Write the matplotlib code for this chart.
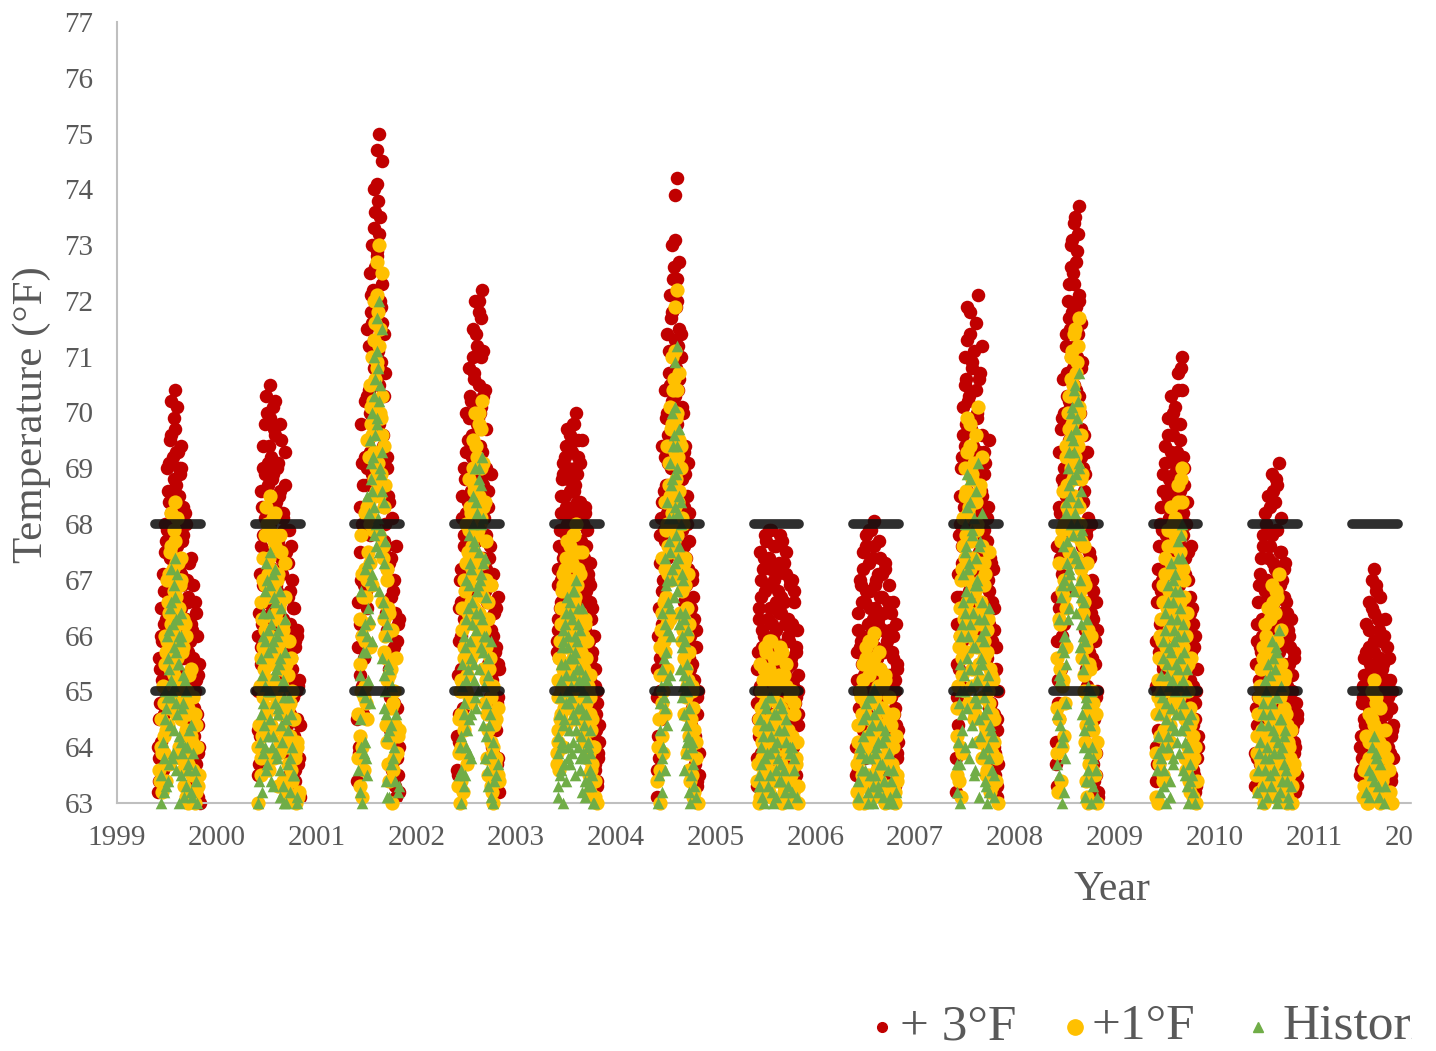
import matplotlib
matplotlib.use("Agg")
import matplotlib.pyplot as plt
from matplotlib.lines import Line2D
from matplotlib.patches import Rectangle
import numpy as np

# summer water temperatures (historical, deg F), two readings per sampling day,
# read off the plot; the +1 / +3 scenarios are the same record shifted up
seasons = [1999, 2000, 2001, 2002, 2003, 2004, 2005, 2006, 2007, 2008, 2009, 2010, 2011]
season_start = [0.41] * 12 + [0.46]   # fraction of the year
season_end = [0.83] * 12 + [0.79]

t1999 = [60.2, 61.5, 60.8, 62.4, 61.1, 63.0, 62.2, 60.6, 63.8, 62.9,
         64.5, 63.3, 61.9, 64.9, 65.6, 63.7, 66.1, 64.4, 65.2, 66.6,
         65.0, 63.9, 66.9, 65.8, 67.4, 66.3, 64.8, 67.1, 65.5, 66.0,
         64.2, 65.9, 63.5, 66.4, 64.7, 62.6, 65.3, 63.1, 64.0, 62.1,
         65.0, 61.4, 63.6, 62.7, 64.3, 60.9, 63.2, 61.8, 62.5, 60.4,
         63.9, 61.2, 62.0, 60.7, 63.4, 61.6, 60.1, 62.3, 61.0, 59.8]
t2000 = [60.5, 62.0, 63.4, 61.2, 64.6, 62.8, 65.3, 63.9, 66.0, 64.4,
         66.8, 65.1, 63.6, 67.0, 65.7, 64.2, 66.4, 67.5, 65.0, 66.2,
         64.0, 65.9, 63.3, 66.7, 64.8, 67.2, 65.4, 63.8, 66.1, 64.6,
         62.9, 65.6, 63.1, 66.5, 64.1, 62.4, 65.2, 63.0, 66.3, 61.7,
         64.5, 62.2, 63.7, 60.9, 64.9, 61.5, 63.2, 62.6, 60.3, 64.0,
         61.9, 63.5, 60.6, 62.8, 61.1, 63.0, 60.2, 62.1, 60.8, 61.4]
t2001 = [60.4, 62.8, 61.0, 64.5, 63.2, 66.8, 62.1, 65.0, 61.6, 63.9,
         66.2, 64.1, 65.7, 67.3, 63.5, 66.5, 68.2, 64.8, 67.0, 69.1,
         65.9, 68.6, 66.9, 70.3, 67.8, 69.6, 68.0, 71.1, 69.9, 70.8,
         67.5, 72.0, 70.5, 68.9, 71.5, 69.3, 66.4, 68.4, 65.3, 67.7,
         64.6, 66.0, 63.1, 65.5, 62.4, 64.3, 61.3, 63.7, 60.7, 65.1,
         62.6, 64.0, 61.8, 63.4, 60.1, 62.9, 61.2, 60.5, 63.3, 59.9]
t2002 = [60.6, 62.3, 61.1, 63.5, 62.0, 64.2, 63.0, 65.1, 61.7, 64.6,
         63.3, 65.8, 64.0, 66.3, 62.7, 65.4, 66.9, 64.5, 67.3, 65.6,
         63.8, 66.6, 68.0, 65.2, 67.7, 64.9, 66.1, 68.4, 66.8, 65.0,
         67.5, 69.0, 66.4, 68.7, 67.1, 69.2, 65.7, 68.1, 66.0, 67.4,
         64.8, 66.7, 63.6, 65.3, 62.5, 64.4, 61.9, 63.1, 65.9, 62.2,
         64.1, 60.9, 63.4, 61.5, 62.8, 60.3, 61.8, 63.7, 60.8, 62.4]
t2003 = [62.7, 63.9, 63.1, 64.6, 63.5, 65.2, 64.0, 65.8, 64.4, 66.1,
         63.7, 65.5, 64.8, 66.4, 65.0, 63.8, 66.0, 64.3, 65.6, 66.6,
         64.9, 66.3, 65.3, 64.1, 66.8, 65.7, 64.5, 67.0, 65.9, 64.7,
         66.2, 65.1, 63.6, 65.4, 64.2, 66.5, 63.9, 65.0, 64.6, 63.4,
         65.2, 63.8, 64.9, 63.3, 64.0, 62.9, 63.6, 64.3, 62.6, 63.5,
         61.8, 63.0, 61.2, 62.4, 60.7, 61.6, 60.3, 62.0, 60.9, 61.4]
t2004 = [60.1, 61.9, 63.0, 60.8, 62.6, 64.3, 61.5, 63.8, 65.4, 62.9,
         64.9, 66.2, 63.6, 65.7, 67.0, 64.4, 66.6, 68.1, 65.3, 67.5,
         66.0, 68.8, 67.2, 69.4, 66.7, 68.3, 70.1, 67.8, 71.2, 69.0,
         67.4, 69.7, 68.5, 66.4, 68.0, 65.8, 67.1, 65.1, 66.3, 64.6,
         65.9, 63.9, 65.5, 64.1, 66.1, 63.2, 64.7, 62.4, 63.5, 61.7,
         64.0, 62.1, 60.6, 63.3, 61.2, 62.8, 60.4, 61.6, 59.9, 60.9]
t2005 = [60.3, 61.8, 62.7, 61.2, 63.5, 62.1, 64.0, 60.9, 63.1, 62.5,
         64.4, 61.6, 63.8, 64.7, 62.9, 61.4, 63.3, 64.9, 62.2, 63.9,
         60.6, 64.2, 62.8, 63.0, 61.9, 64.6, 62.4, 63.6, 60.8, 64.1,
         61.1, 63.4, 62.6, 64.8, 61.5, 63.7, 62.0, 60.4, 64.3, 62.3,
         63.2, 61.3, 64.5, 62.9, 60.7, 63.0, 61.7, 63.9, 62.5, 61.0,
         64.0, 62.2, 60.2, 63.6, 61.8, 62.7, 60.5, 63.1, 61.4, 62.0]
t2006 = [60.5, 62.2, 61.0, 63.4, 61.7, 62.8, 60.3, 63.9, 62.5, 61.3,
         64.2, 62.0, 63.6, 60.9, 64.6, 62.9, 61.5, 63.2, 64.9, 62.4,
         63.8, 61.2, 64.4, 63.0, 62.1, 65.05, 63.5, 61.8, 64.0, 62.6,
         60.7, 63.3, 64.7, 61.9, 63.7, 62.3, 64.1, 60.6, 63.1, 62.7,
         61.4, 64.3, 62.8, 60.8, 63.0, 61.6, 63.9, 62.2, 60.4, 63.4,
         61.1, 62.6, 63.6, 60.2, 62.0, 61.7, 63.2, 60.9, 62.4, 61.3]
t2007 = [60.2, 62.5, 63.7, 61.4, 64.8, 63.0, 65.5, 62.1, 66.2, 64.3,
         67.1, 65.0, 68.0, 66.4, 67.6, 64.7, 68.9, 66.0, 67.3, 65.4,
         68.4, 66.7, 64.1, 67.9, 65.8, 63.5, 66.9, 64.9, 68.6, 65.2,
         67.0, 69.1, 66.3, 64.5, 67.7, 65.6, 68.2, 66.6, 63.9, 65.9,
         64.6, 66.1, 63.3, 65.1, 62.6, 64.0, 66.5, 63.2, 64.4, 61.8,
         63.6, 62.3, 64.2, 61.0, 63.1, 60.5, 62.8, 61.5, 60.1, 62.0]
t2008 = [60.7, 62.9, 64.6, 61.8, 66.3, 63.5, 65.2, 62.4, 66.9, 64.1,
         67.6, 65.7, 63.2, 66.0, 68.2, 64.8, 67.3, 69.0, 66.5, 68.7,
         67.1, 69.6, 68.0, 70.1, 67.8, 69.3, 66.8, 70.5, 68.9, 67.4,
         69.9, 68.4, 70.7, 69.1, 67.0, 68.6, 66.2, 67.9, 65.4, 66.6,
         64.3, 65.9, 63.4, 64.9, 62.1, 63.9, 65.1, 62.7, 64.4, 61.3,
         63.0, 64.0, 61.6, 63.3, 60.4, 62.5, 63.6, 60.9, 62.0, 60.1]
t2009 = [60.4, 62.1, 63.6, 61.3, 64.2, 62.7, 65.0, 61.9, 63.8, 64.9,
         62.4, 65.6, 63.3, 66.1, 64.5, 62.9, 65.3, 66.6, 64.0, 65.8,
         63.1, 66.3, 64.7, 65.2, 67.0, 63.7, 65.9, 64.3, 66.8, 65.5,
         64.1, 66.0, 67.4, 65.1, 66.5, 64.6, 67.8, 68.0, 66.2, 64.8,
         65.7, 63.5, 64.4, 62.6, 65.4, 63.0, 64.0, 61.7, 63.4, 62.2,
         64.6, 61.1, 63.2, 60.6, 62.8, 61.5, 60.2, 62.0, 60.8, 61.2]
t2010 = [60.3, 61.7, 62.9, 60.8, 63.6, 62.2, 61.4, 64.1, 62.7, 63.3,
         60.6, 64.6, 62.0, 63.8, 61.2, 65.0, 63.1, 62.4, 64.4, 61.8,
         65.3, 63.5, 62.6, 64.8, 61.5, 65.6, 63.9, 62.1, 64.2, 65.8,
         63.0, 64.9, 62.8, 66.1, 64.5, 63.2, 65.1, 62.3, 64.0, 61.6,
         63.7, 62.5, 64.3, 61.0, 63.4, 62.0, 60.7, 63.0, 61.9, 62.8,
         60.4, 62.3, 61.3, 60.9, 62.6, 61.1, 60.2, 61.8, 60.5, 61.5]
t2011 = [60.5, 61.2, 60.8, 61.9, 62.3, 61.5, 60.6, 62.7, 61.0, 62.0,
         63.1, 61.7, 62.5, 60.9, 63.5, 61.3, 62.9, 64.2, 62.2, 63.9,
         61.8, 63.3, 60.7, 62.6, 63.7, 61.4, 62.4, 61.1, 63.0, 62.1,
         60.6, 61.6, 62.8, 61.9, 60.8, 62.2, 61.2, 60.5, 62.0, 61.4]

# second reading of each day
t1999_b = [61.0, 60.4, 62.6, 61.8, 63.5, 60.9, 62.9, 64.1, 61.6, 63.2,
           65.0, 62.4, 64.7, 66.0, 63.4, 65.4, 62.7, 66.5, 64.9, 67.2,
           63.8, 66.2, 65.1, 64.3, 66.7, 63.6, 65.7, 64.6, 66.3, 63.0,
           65.5, 62.8, 64.1, 66.0, 63.9, 61.9, 64.8, 62.3, 65.2, 63.3,
           61.5, 64.0, 62.0, 63.7, 60.6, 62.9, 64.4, 61.3, 63.1, 60.8,
           62.6, 61.7, 63.6, 60.3, 62.2, 63.0, 61.4, 60.9, 62.5, 60.0]
t2000_b = [61.3, 63.0, 60.7, 64.1, 62.5, 65.6, 63.2, 64.8, 66.4, 62.9,
           65.9, 64.0, 67.3, 63.7, 66.1, 65.0, 62.6, 66.9, 64.5, 63.4,
           65.8, 67.1, 64.2, 62.8, 66.6, 65.3, 63.9, 66.0, 64.7, 62.3,
           65.5, 63.6, 66.8, 64.4, 61.8, 65.1, 63.3, 64.9, 62.1, 65.7,
           63.0, 61.4, 64.3, 62.7, 60.5, 63.8, 61.6, 64.6, 62.4, 60.9,
           63.5, 61.2, 62.9, 60.4, 62.0, 63.1, 61.5, 60.7, 62.2, 60.1]
t2001_b = [61.5, 63.6, 60.9, 65.3, 62.3, 64.0, 66.1, 63.0, 65.7, 62.6,
           64.9, 67.2, 63.8, 66.0, 68.5, 65.2, 67.4, 69.5, 66.3, 68.8,
           70.0, 67.1, 69.2, 71.0, 68.3, 70.6, 67.6, 71.7, 69.8, 68.1,
           70.2, 66.8, 69.0, 67.9, 65.6, 68.6, 66.6, 64.7, 67.3, 65.0,
           63.4, 66.2, 64.2, 62.7, 65.4, 63.1, 61.9, 64.4, 62.0, 60.6,
           63.8, 61.4, 62.8, 60.3, 64.6, 61.7, 60.8, 63.2, 61.0, 60.2]
t2002_b = [61.2, 60.5, 62.9, 61.6, 64.0, 62.4, 63.6, 65.5, 62.2, 64.8,
           66.0, 63.5, 65.2, 67.0, 64.3, 66.5, 63.9, 67.8, 65.9, 64.6,
           67.2, 66.2, 68.5, 65.5, 67.6, 69.0, 66.4, 64.7, 68.2, 66.9,
           65.4, 68.8, 67.0, 65.8, 68.0, 66.3, 64.4, 67.3, 65.1, 63.8,
           66.0, 64.2, 62.8, 65.6, 63.3, 61.6, 64.6, 62.3, 63.9, 61.0,
           63.0, 62.0, 60.5, 62.7, 61.3, 63.5, 60.7, 61.9, 62.5, 60.2]
t2003_b = [62.9, 63.3, 64.2, 62.6, 64.9, 63.6, 65.5, 64.1, 63.0, 65.9,
           64.5, 66.2, 63.4, 65.3, 66.7, 64.0, 65.8, 64.8, 63.7, 66.4,
           65.1, 63.9, 66.8, 64.6, 65.6, 63.5, 66.0, 64.3, 65.4, 66.5,
           64.0, 65.2, 63.8, 66.1, 64.7, 63.2, 65.0, 63.9, 64.4, 65.3,
           63.1, 64.6, 62.8, 64.1, 63.4, 62.5, 63.9, 62.2, 63.3, 61.5,
           62.7, 61.0, 63.0, 60.6, 62.1, 61.3, 60.4, 61.8, 60.8, 61.1]
t2004_b = [60.6, 62.4, 61.2, 63.5, 64.8, 62.0, 65.1, 63.2, 66.4, 64.0,
           65.6, 67.4, 64.7, 66.9, 65.2, 68.4, 66.1, 67.7, 69.1, 66.5,
           68.7, 67.0, 70.0, 68.1, 69.6, 67.3, 70.9, 68.9, 66.8, 69.4,
           68.2, 66.2, 67.6, 65.4, 68.4, 66.0, 64.9, 67.0, 65.3, 63.6,
           66.4, 64.4, 65.0, 62.9, 64.2, 62.6, 65.2, 63.0, 61.4, 64.1,
           62.5, 63.7, 61.0, 62.2, 60.7, 63.1, 61.9, 60.3, 62.0, 60.5]
t2005_b = [60.8, 62.4, 61.5, 63.3, 62.0, 64.5, 61.2, 63.7, 62.8, 64.2,
           60.5, 63.0, 64.8, 62.3, 61.8, 63.9, 62.6, 64.4, 61.1, 63.5,
           64.9, 62.1, 63.2, 61.6, 64.0, 62.9, 60.7, 64.6, 63.1, 61.9,
           63.8, 62.5, 64.3, 61.3, 63.4, 62.7, 64.7, 60.9, 62.2, 63.6,
           61.7, 64.1, 62.4, 60.6, 63.3, 61.5, 62.9, 64.0, 60.4, 62.6,
           63.2, 61.0, 62.1, 63.8, 60.8, 61.9, 62.8, 60.3, 61.6, 62.3]
t2006_b = [61.0, 62.7, 60.6, 63.1, 62.0, 64.0, 61.4, 62.9, 63.6, 61.8,
           64.5, 62.3, 60.8, 63.8, 64.8, 61.6, 63.0, 62.5, 64.3, 60.9,
           63.5, 64.9, 62.2, 63.3, 61.3, 64.6, 62.8, 63.9, 61.1, 62.6,
           64.1, 63.2, 60.5, 62.4, 64.4, 61.7, 63.7, 62.1, 60.7, 63.4,
           62.0, 64.2, 61.5, 62.9, 63.6, 60.4, 62.3, 61.2, 63.1, 61.9,
           62.7, 60.6, 63.0, 61.6, 62.2, 60.3, 61.4, 62.5, 60.8, 61.1]
t2007_b = [60.8, 61.9, 63.2, 64.1, 62.4, 65.0, 63.7, 66.0, 64.6, 62.9,
           66.6, 65.3, 67.5, 64.0, 66.8, 68.3, 65.6, 67.2, 63.8, 66.2,
           68.8, 65.1, 67.8, 64.4, 66.4, 68.1, 63.6, 65.8, 67.4, 64.8,
           66.9, 65.4, 63.1, 67.6, 64.2, 66.0, 62.8, 65.5, 63.9, 64.9,
           66.3, 63.4, 62.5, 64.7, 63.0, 65.3, 61.7, 63.8, 62.2, 64.3,
           61.2, 62.9, 60.6, 63.5, 61.6, 60.9, 62.4, 60.3, 61.3, 60.7]
t2008_b = [61.1, 60.3, 63.7, 62.2, 65.3, 61.5, 64.4, 66.7, 63.0, 65.8,
           64.2, 67.0, 66.0, 63.8, 68.4, 65.5, 67.7, 66.3, 69.3, 67.2,
           68.5, 70.0, 66.9, 68.8, 69.5, 67.5, 70.4, 68.2, 69.7, 66.4,
           68.0, 70.2, 67.3, 69.0, 65.8, 67.8, 66.7, 64.6, 66.0, 64.0,
           65.6, 63.1, 64.8, 62.4, 66.3, 63.6, 62.0, 64.5, 61.8, 63.4,
           65.0, 62.6, 60.7, 63.8, 61.5, 62.9, 60.5, 61.9, 63.1, 60.2]
t2009_b = [61.0, 62.9, 60.7, 63.9, 62.0, 64.6, 63.2, 61.6, 65.3, 64.0,
           62.5, 65.9, 63.6, 66.4, 64.8, 63.0, 65.5, 66.9, 64.2, 65.1,
           63.4, 67.3, 65.7, 64.4, 66.6, 63.8, 66.1, 65.0, 67.1, 64.6,
           66.3, 65.4, 67.7, 63.9, 66.8, 65.6, 64.3, 67.4, 65.2, 63.6,
           66.0, 64.1, 62.8, 65.0, 63.3, 61.9, 64.5, 62.4, 63.7, 60.9,
           62.7, 63.5, 61.4, 62.1, 60.5, 63.0, 61.8, 60.3, 62.4, 61.0]
t2010_b = [60.9, 62.5, 61.4, 63.2, 61.9, 63.9, 62.8, 60.7, 64.4, 63.0,
           61.7, 64.8, 62.3, 63.6, 65.2, 62.6, 64.0, 61.3, 65.5, 63.8,
           62.2, 64.6, 63.3, 65.9, 62.9, 64.3, 63.6, 65.4, 62.4, 64.9,
           63.1, 65.7, 64.1, 62.7, 63.9, 61.8, 64.5, 62.2, 63.4, 61.5,
           64.2, 62.9, 60.8, 63.6, 62.1, 61.2, 63.1, 60.6, 62.5, 61.7,
           63.3, 60.4, 62.0, 61.4, 60.9, 62.7, 61.0, 60.5, 61.6, 60.3]
t2011_b = [61.0, 60.6, 61.8, 62.1, 60.9, 62.6, 61.4, 63.2, 62.0, 61.3,
           62.8, 63.6, 61.9, 62.4, 64.0, 61.5, 63.4, 62.7, 61.1, 63.8,
           62.3, 60.8, 63.1, 62.0, 61.6, 62.9, 60.7, 62.5, 61.2, 63.3,
           61.8, 60.5, 62.2, 61.0, 62.6, 60.9, 61.7, 60.4, 61.3, 60.8]

first_reading = [t1999, t2000, t2001, t2002, t2003, t2004, t2005,
                 t2006, t2007, t2008, t2009, t2010, t2011]
second_reading = [t1999_b, t2000_b, t2001_b, t2002_b, t2003_b, t2004_b, t2005_b,
                  t2006_b, t2007_b, t2008_b, t2009_b, t2010_b, t2011_b]

offset_1 = 1.0
offset_3 = 3.0
upper_threshold = 68
lower_threshold = 65
y_min, y_max = 63, 77

red = "#C00000"
gold = "#FFC000"
green = "#70AD47"
grey_txt = "#595959"

# build x (decimal year) and y
xs = []
hs = []
for yr, s0, s1, a, b in zip(seasons, season_start, season_end, first_reading, second_reading):
    days_a = yr + np.linspace(s0, s1, len(a))
    days_b = yr + np.linspace(s0, s1, len(b))
    xs += [days_a, days_b]
    hs += [np.array(a), np.array(b)]
x = np.concatenate(xs)
hist = np.concatenate(hs)
plus1 = hist + offset_1
plus3 = hist + offset_3

plt.rcParams['font.family'] = ['Liberation Serif', 'DejaVu Serif']

fig = plt.figure(figsize=(14.36, 10.51), dpi=100)
ax = fig.add_axes([117/1436, 1 - 803/1051, (1414-117)/1436, (803-22)/1051])

# excel drops points below the axis minimum
m3 = plus3 >= y_min
m1 = plus1 >= y_min
mh = hist >= y_min
ax.scatter(x[m3], plus3[m3], s=95, color=red, marker='o', linewidths=0, clip_on=False, zorder=2)
ax.scatter(x[m1], plus1[m1], s=105, color=gold, marker='o', linewidths=0, clip_on=False, zorder=3)
ax.scatter(x[mh], hist[mh], s=70, color=green, marker='^', linewidths=0, clip_on=False, zorder=4)

# threshold bars for each season
for yr in seasons:
    for thr in [upper_threshold, lower_threshold]:
        ax.plot([yr + 0.38, yr + 0.84], [thr, thr], color='#111111', lw=7,
                alpha=0.88, solid_capstyle='round', zorder=5)

ax.set_xlim(1999, 2012)
ax.set_ylim(y_min, y_max)
ax.set_xticks(range(1999, 2013))
ax.set_yticks(range(y_min, y_max + 1))
ax.tick_params(length=0, labelsize=21, labelcolor=grey_txt)
ax.tick_params(axis='y', pad=17)
ax.tick_params(axis='x', pad=16)
for sp in ['top', 'right']:
    ax.spines[sp].set_visible(False)
for sp in ['left', 'bottom']:
    ax.spines[sp].set_color('#BFBFBF')
    ax.spines[sp].set_linewidth(1.5)

fig.text(32/1436, 1 - 415/1051, "Temperature (°F)", rotation=90, ha='center', va='center',
         fontsize=31, color=grey_txt)
fig.text(1112/1436, 1 - 890/1051, "Year", ha='center', va='center', fontsize=30, color=grey_txt)

# legend along the bottom
leg_y = 1 - 1027/1051
leg_items = [("+ 3°F", red, 'o', 7, 882, 900),
             ("+1°F", gold, 'o', 11, 1075, 1092),
             ("Historical", green, '^', 7, 1258, 1282)]
for label, col, mk, ms, mx, tx in leg_items:
    fig.add_artist(Line2D([mx/1436], [leg_y], ls='none', marker=mk, color=col,
                          markersize=ms, transform=fig.transFigure))
    fig.text(tx/1436, leg_y, label, ha='left', va='center', fontsize=37, color=grey_txt)

# the source image is cut off on the right
fig.add_artist(Rectangle((1412/1436, 0), 1, 1, transform=fig.transFigure,
                         color='white', zorder=1000))

fig.savefig("out.png", dpi=100)
